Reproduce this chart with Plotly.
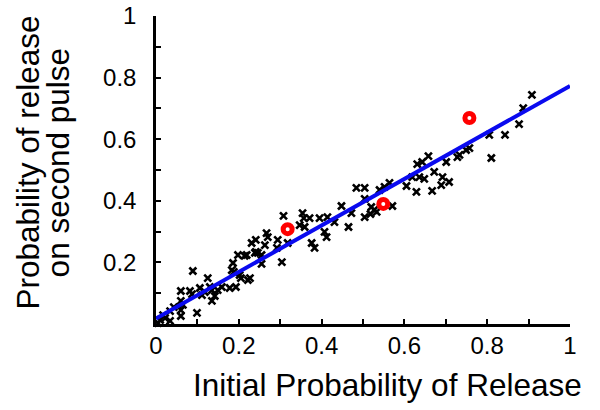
import plotly.graph_objects as go

# Scatter data (initial probability vs probability on second pulse)
p_initial = [0.010, 0.017, 0.034, 0.034, 0.060, 0.060, 0.065, 0.099, 0.060, 0.060,
             0.082, 0.087, 0.089, 0.106, 0.111, 0.118, 0.125, 0.130, 0.135, 0.135,
             0.142, 0.149, 0.159, 0.178, 0.193, 0.205, 0.202, 0.222, 0.227, 0.183,
             0.186, 0.188, 0.198, 0.214, 0.219, 0.231, 0.241, 0.241, 0.239, 0.005,
             0.022, 0.043, 0.246, 0.255, 0.255, 0.263, 0.267, 0.270, 0.292, 0.304,
             0.308, 0.318, 0.354, 0.357, 0.359, 0.371, 0.376, 0.383, 0.395, 0.407,
             0.412, 0.414, 0.431, 0.448, 0.465, 0.472, 0.484, 0.504, 0.504, 0.504,
             0.520, 0.527, 0.533, 0.518, 0.347, 0.294, 0.540, 0.552, 0.564, 0.571,
             0.605, 0.629, 0.636, 0.648, 0.619, 0.631, 0.643, 0.658, 0.667, 0.672,
             0.689, 0.692, 0.708, 0.701, 0.728, 0.733, 0.749, 0.757, 0.805, 0.810,
             0.843, 0.877, 0.887, 0.908]
p_second = [0.013, 0.029, 0.010, 0.042, 0.026, 0.045, 0.062, 0.036, 0.075, 0.107,
            0.107, 0.097, 0.172, 0.117, 0.094, 0.104, 0.149, 0.120, 0.110, 0.075,
            0.091, 0.110, 0.120, 0.117, 0.120, 0.149, 0.159, 0.143, 0.149, 0.175,
            0.198, 0.169, 0.224, 0.221, 0.224, 0.263, 0.273, 0.234, 0.231, 0.003,
            0.019, 0.055, 0.231, 0.224, 0.195, 0.256, 0.295, 0.282, 0.247, 0.201,
            0.351, 0.263, 0.360, 0.344, 0.315, 0.344, 0.263, 0.247, 0.344, 0.299,
            0.282, 0.347, 0.331, 0.383, 0.315, 0.360, 0.442, 0.442, 0.406, 0.347,
            0.380, 0.370, 0.364, 0.357, 0.321, 0.273, 0.435, 0.445, 0.458, 0.383,
            0.448, 0.429, 0.477, 0.471, 0.477, 0.519, 0.526, 0.545, 0.432, 0.494,
            0.451, 0.477, 0.461, 0.526, 0.542, 0.549, 0.565, 0.571, 0.614, 0.539,
            0.614, 0.649, 0.701, 0.744]

# Highlighted cells
red_initial = [0.318, 0.549, 0.757]
red_second = [0.308, 0.390, 0.669]

# Fitted line
fit_x = [0.0, 1.0]
fit_y = [0.018, 0.773]

x_ticks = [0, 0.2, 0.4, 0.6, 0.8, 1]
x_tick_text = ["0", "0.2", "0.4", "0.6", "0.8", "1"]
y_ticks = [0.2, 0.4, 0.6, 0.8, 1]
y_tick_text = ["0.2", "0.4", "0.6", "0.8", "1"]

x_title = "Initial Probability of Release"
y_title_lines = ["Probability of release", "on second pulse"]

FONT = "Arial, Liberation Sans, sans-serif"

fig = go.Figure()
fig.add_trace(go.Scatter(
    x=p_initial, y=p_second, mode="markers",
    marker=dict(symbol="x-thin-open", size=7, color="black",
                line=dict(width=2.6, color="black")),
    cliponaxis=False, showlegend=False))
fig.add_trace(go.Scatter(
    x=fit_x, y=fit_y, mode="lines",
    line=dict(color="#0a0aef", width=4), showlegend=False))
fig.add_trace(go.Scatter(
    x=red_initial, y=red_second, mode="markers",
    marker=dict(symbol="circle-open", size=9, color="#ff0000",
                line=dict(width=5, color="#ff0000")),
    showlegend=False))

axis_common = dict(
    range=[0, 1], showgrid=False, zeroline=False, showline=True,
    linecolor="black", linewidth=2.5, ticks="inside", ticklen=5,
    tickwidth=2, tickcolor="black", mirror=False, automargin=False,
    tickfont=dict(family=FONT, size=24, color="black"),
    minor=dict(ticks="inside", ticklen=5, tickwidth=2, tickcolor="black",
               dtick=0.1, tick0=0, showgrid=False),
)

fig.update_xaxes(tickvals=x_ticks, ticktext=x_tick_text, ticklabelstandoff=-2,
                 **axis_common)
fig.update_yaxes(tickvals=y_ticks, ticktext=y_tick_text, ticklabelstandoff=12,
                 **axis_common)

fig.update_layout(
    width=600, height=410,
    margin=dict(l=156, r=30, t=16, b=86),
    paper_bgcolor="white", plot_bgcolor="white",
    annotations=[
        dict(text=x_title, xref="paper", yref="paper",
             x=0.56, y=-0.198, xanchor="center", yanchor="middle",
             showarrow=False, font=dict(family=FONT, size=31.5, color="black")),
        dict(text=y_title_lines[0], xref="paper",
             yref="paper", x=-0.31, y=0.523, xanchor="center",
             yanchor="middle", textangle=-90, showarrow=False,
             font=dict(family=FONT, size=31.5, color="black")),
        dict(text=y_title_lines[1], xref="paper",
             yref="paper", x=-0.238, y=0.523, xanchor="center",
             yanchor="middle", textangle=-90, showarrow=False,
             font=dict(family=FONT, size=31.5, color="black")),
    ],
)

fig.write_html("out.html")
